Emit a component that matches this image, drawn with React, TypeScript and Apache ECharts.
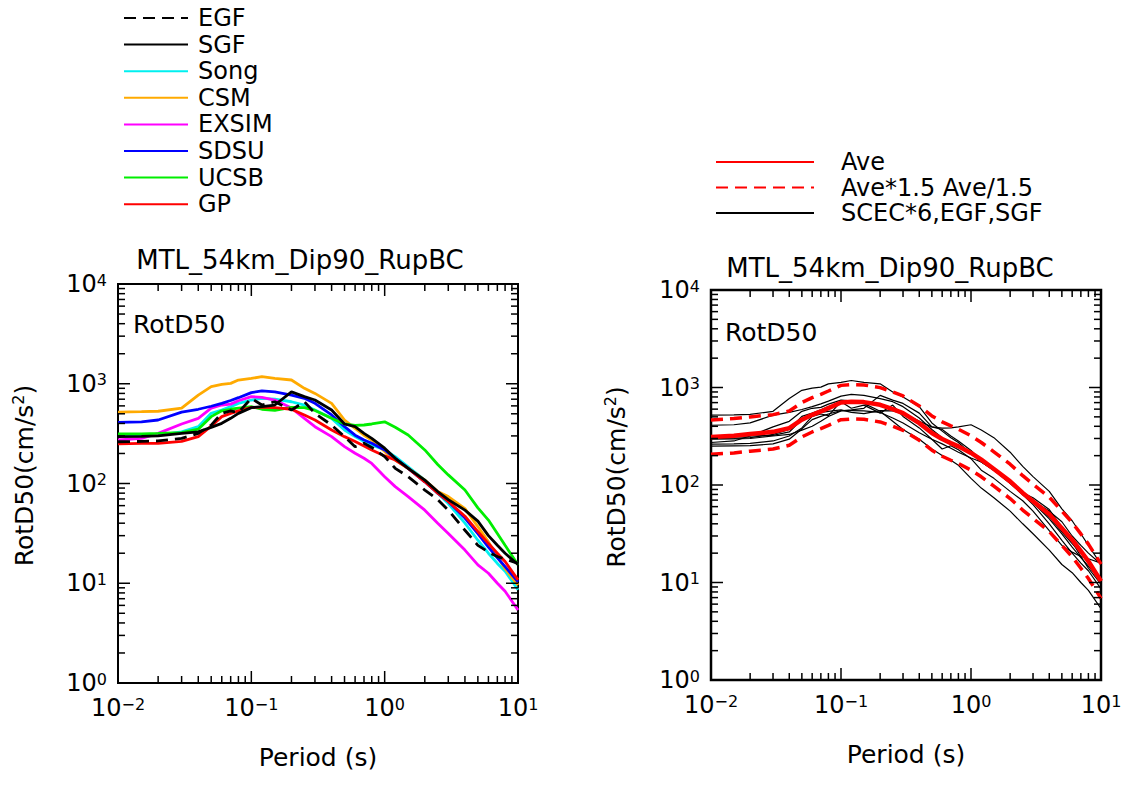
import React, { useEffect, useRef } from 'react';
import * as echarts from 'echarts';

const PERIODS = [0.01, 0.015, 0.02, 0.03, 0.04, 0.05, 0.06, 0.07, 0.08, 0.1, 0.12, 0.15, 0.2, 0.25, 0.3, 0.4, 0.5, 0.6, 0.7, 0.8, 1.0, 1.2, 1.5, 2, 2.5, 3, 4, 5, 6, 7, 8, 10];

const EGF = [262, 264, 267, 283, 318, 385, 505, 535, 515, 715, 612, 660, 546, 660, 505, 385, 295, 234, 253, 230, 186, 142, 117, 86, 69, 54, 34, 24, 20.5, 18.5, 17.5, 15.8];
const SGF = [295, 297, 300, 318, 330, 365, 401, 450, 505, 576, 589, 612, 830, 742, 687, 546, 395, 371, 318, 283, 226, 179, 142, 108, 83, 69, 54, 42, 30, 24, 20, 15.4];
const SONG = [300, 302, 306, 330, 371, 505, 546, 589, 636, 687, 715, 700, 660, 612, 546, 450, 344, 295, 264, 243, 217, 186, 147, 108, 80, 63, 40, 27, 20, 15.8, 13.2, 8.6];
const CSM = [520, 525, 530, 570, 770, 935, 985, 1009, 1090, 1130, 1180, 1130, 1090, 900, 800, 636, 433, 357, 305, 273, 209, 172, 142, 108, 83, 74, 56, 37, 26, 18.5, 14, 9.6];
const EXSIM = [273, 283, 318, 395, 450, 570, 612, 625, 676, 742, 730, 687, 570, 450, 371, 295, 234, 201, 179, 159, 117, 93, 74, 54, 40, 31.6, 21.5, 15.3, 12.6, 10, 8.3, 5.4];
const SDSU = [410, 415, 433, 520, 555, 595, 636, 680, 725, 815, 850, 830, 770, 715, 636, 487, 371, 305, 273, 253, 217, 179, 142, 104, 80, 66, 45, 31.5, 23, 18, 14.7, 10.3];
const UCSB = [315, 315, 318, 323, 350, 468, 535, 555, 570, 589, 555, 540, 580, 576, 540, 450, 395, 383, 386, 395, 415, 366, 306, 217, 155, 122, 86, 57, 43, 31.6, 24, 15.3];
const GP = [250, 252, 253, 264, 295, 376, 468, 505, 535, 580, 580, 576, 555, 487, 433, 344, 295, 264, 238, 217, 189, 172, 142, 104, 80, 66, 47, 33, 25, 20, 16.5, 10.8];
const AVE = [310, 320, 333, 351, 383, 467, 525, 568, 614, 701, 713, 708, 665, 600, 546, 431, 341, 296, 269, 249, 213, 182, 146, 109, 83, 68, 50, 36, 27.5, 21, 16.5, 10.3];
const BAND_FACTOR = 1.5;

const MODEL_NAMES = ['EGF', 'SGF', 'Song', 'CSM', 'EXSIM', 'SDSU', 'UCSB', 'GP'];
const MODEL_VALUES = [EGF, SGF, SONG, CSM, EXSIM, SDSU, UCSB, GP];
const MODEL_COLORS = ['#000000', '#000000', '#00f0f0', '#ffaa00', '#ff00ff', '#0000ff', '#00ee00', '#ff0000'];
const DRAW_ORDER = [2, 3, 4, 5, 6, 7, 0, 1];

const TITLE = 'MTL_54km_Dip90_RupBC';
const RIGHT_LEGEND = ['Ave', 'Ave*1.5 Ave/1.5', 'SCEC*6,EGF,SGF'];

const X_MAJOR = [0.1, 1];
const Y_MAJOR = [10, 100, 1000];
const X_DECADES = [0.01, 0.1, 1];
const Y_DECADES = [1, 10, 100, 1000];
const MULTS = [2, 3, 4, 5, 6, 7, 8, 9];

const FONT = '"DejaVu Sans", sans-serif';

const pairs = (vals: number[]) => PERIODS.map((p, i) => [p, vals[i]]);

function tickData() {
  const d: number[][] = [];
  X_MAJOR.forEach((v) => d.push([v, 1, 0, 1]));
  X_DECADES.forEach((dec) => MULTS.forEach((m) => d.push([+(dec * m).toPrecision(3), 1, 0, 0])));
  Y_MAJOR.forEach((v) => d.push([0.01, v, 1, 1]));
  Y_DECADES.forEach((dec) => MULTS.forEach((m) => d.push([0.01, +(dec * m).toPrecision(3), 1, 0])));
  return d;
}

const renderTicks = (params: any, api: any) => {
  const kind = api.value(2);
  const major = api.value(3);
  const L = major ? 12 : 7;
  const st = () => ({ stroke: '#000', lineWidth: 1.5 });
  if (kind === 0) {
    const v = api.value(0);
    const b = api.coord([v, 1]);
    const t = api.coord([v, 10000]);
    return {
      type: 'group',
      children: [
        { type: 'line', shape: { x1: b[0], y1: b[1], x2: b[0], y2: b[1] - L }, style: st() },
        { type: 'line', shape: { x1: t[0], y1: t[1], x2: t[0], y2: t[1] + L }, style: st() },
      ],
    };
  }
  const v = api.value(1);
  const l = api.coord([0.01, v]);
  const r = api.coord([10, v]);
  return {
    type: 'group',
    children: [
      { type: 'line', shape: { x1: l[0], y1: l[1], x2: l[0] + L, y2: l[1] }, style: st() },
      { type: 'line', shape: { x1: r[0], y1: r[1], x2: r[0] - L, y2: r[1] }, style: st() },
    ],
  };
};

const fmtPow = (v: number) => {
  const e = Math.round(Math.log10(v));
  return `{b|10}{s|${e < 0 ? '\u2212' + -e : e}}`;
};
const RICH = {
  b: { fontFamily: FONT, fontSize: 24, color: '#000' },
  s: { fontFamily: FONT, fontSize: 16, color: '#000', padding: [0, 0, 8, 0] },
};

const xAxis = (gridIndex: number) => ({
  type: 'log', logBase: 10, min: 0.01, max: 10, gridIndex,
  name: 'Period (s)', nameLocation: 'middle', nameGap: 62,
  nameTextStyle: { fontFamily: FONT, fontSize: 25, color: '#000' },
  axisLine: { show: false }, axisTick: { show: false }, splitLine: { show: false },
  axisLabel: { formatter: fmtPow, rich: RICH, margin: 13, color: '#000', showMinLabel: true, showMaxLabel: true },
});

const yAxis = (gridIndex: number, gap: number) => ({
  type: 'log', logBase: 10, min: 1, max: 10000, gridIndex,
  name: 'RotD50(cm/s{sup|2})', nameLocation: 'middle', nameGap: gap,
  nameTextStyle: {
    fontFamily: FONT, fontSize: 25, color: '#000', padding: [0, 0, 0, 16],
    rich: { sup: { fontFamily: FONT, fontSize: 16, color: '#000', padding: [0, 0, 12, 0] } },
  },
  axisLine: { show: false }, axisTick: { show: false }, splitLine: { show: false },
  axisLabel: { formatter: fmtPow, rich: RICH, margin: 11, color: '#000', showMinLabel: true, showMaxLabel: true },
});

export default function App() {
  const ref = useRef<HTMLDivElement>(null);
  useEffect(() => {
    if (!ref.current) return;
    const chart = echarts.init(ref.current, null, { renderer: 'svg' });
    const series: any[] = [];
    DRAW_ORDER.forEach((i) => {
      series.push({
        type: 'line', name: MODEL_NAMES[i], xAxisIndex: 0, yAxisIndex: 0,
        data: pairs(MODEL_VALUES[i]), symbol: 'none', color: MODEL_COLORS[i],
        lineStyle: { color: MODEL_COLORS[i], width: 2.8, type: i === 0 ? [12, 7] : 'solid' },
      });
    });
    MODEL_VALUES.forEach((vals) => {
      series.push({
        type: 'line', name: RIGHT_LEGEND[2], xAxisIndex: 1, yAxisIndex: 1,
        data: pairs(vals), symbol: 'none', color: '#000',
        lineStyle: { color: '#000', width: 1.2 },
      });
    });
    series.push({
      type: 'line', name: RIGHT_LEGEND[1], xAxisIndex: 1, yAxisIndex: 1,
      data: pairs(AVE.map((v) => v * BAND_FACTOR)), symbol: 'none', color: '#ff0000',
      lineStyle: { color: '#ff0000', width: 3.5, type: [12, 7] },
    });
    series.push({
      type: 'line', name: RIGHT_LEGEND[1] + ' ', xAxisIndex: 1, yAxisIndex: 1,
      data: pairs(AVE.map((v) => v / BAND_FACTOR)), symbol: 'none', color: '#ff0000',
      lineStyle: { color: '#ff0000', width: 3.5, type: [12, 7] },
    });
    series.push({
      type: 'line', name: RIGHT_LEGEND[0], xAxisIndex: 1, yAxisIndex: 1,
      data: pairs(AVE), symbol: 'none', color: '#ff0000',
      lineStyle: { color: '#ff0000', width: 4.5 },
    });
    [0, 1].forEach((g) => {
      series.push({
        type: 'custom', xAxisIndex: g, yAxisIndex: g, data: tickData(),
        renderItem: renderTicks, silent: true, clip: false, z: 5,
      });
    });

    chart.setOption({
      animation: false,
      backgroundColor: '#fff',
      grid: [
        { left: 118, top: 284, width: 400, height: 399, show: true, borderColor: '#000', borderWidth: 2, containLabel: false },
        { left: 711, top: 290, width: 390, height: 390, show: true, borderColor: '#000', borderWidth: 2.5, containLabel: false },
      ],
      xAxis: [xAxis(0), xAxis(1)],
      yAxis: [yAxis(0, 80), yAxis(1, 81)],
      legend: [
        {
          data: MODEL_NAMES, orient: 'vertical', left: 118, top: 1,
          itemWidth: 64, itemHeight: 12, itemGap: 2.6, selectedMode: false,
          itemStyle: { opacity: 0 },
          textStyle: { fontFamily: FONT, fontSize: 24, color: '#000', padding: [0, 0, 0, 5] },
        },
        {
          data: RIGHT_LEGEND, orient: 'vertical', left: 710, top: 145,
          itemWidth: 98, itemHeight: 12, itemGap: 1.5, selectedMode: false,
          itemStyle: { opacity: 0 },
          textStyle: { fontFamily: FONT, fontSize: 24, color: '#000', padding: [0, 0, 0, 22] },
        },
      ],
      graphic: [
        { type: 'text', x: 300, y: 260, style: { text: TITLE, font: `26px ${FONT}`, fill: '#000', textAlign: 'center', textVerticalAlign: 'middle' } },
        { type: 'text', x: 890, y: 268, style: { text: TITLE, font: `26px ${FONT}`, fill: '#000', textAlign: 'center', textVerticalAlign: 'middle' } },
        { type: 'text', x: 133, y: 324, style: { text: 'RotD50', font: `25px ${FONT}`, fill: '#000', textAlign: 'left', textVerticalAlign: 'middle' } },
        { type: 'text', x: 725, y: 332, style: { text: 'RotD50', font: `25px ${FONT}`, fill: '#000', textAlign: 'left', textVerticalAlign: 'middle' } },
      ],
      series,
    });
    return () => chart.dispose();
  }, []);
  return <div ref={ref} style={{ position: 'absolute', left: 0, top: 0, width: 1125, height: 787 }} />;
}
